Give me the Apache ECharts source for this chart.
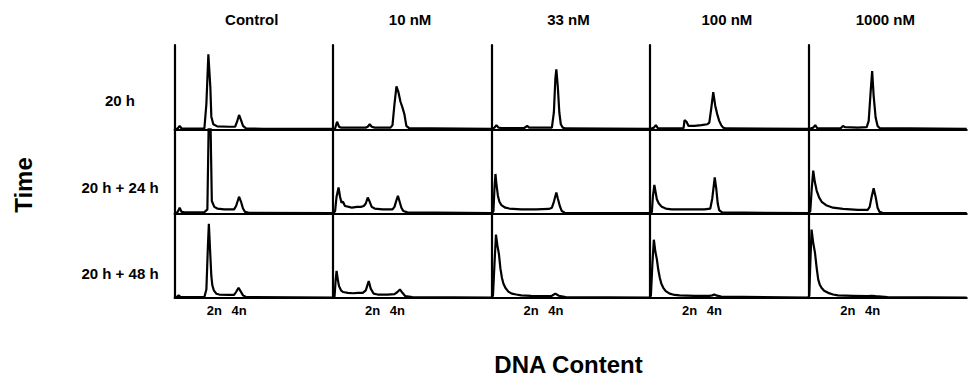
<!DOCTYPE html>
<html>
<head>
<meta charset="utf-8">
<script src="https://cdn.jsdelivr.net/npm/echarts@6/dist/echarts.min.js"></script>
<style>
html,body{margin:0;padding:0;background:#fff;}
#chart{width:972px;height:385px;}
</style>
</head>
<body>
<div id="chart"></div>
<script>
// ---------------- data ----------------
const concentrations = ['Control', '10 nM', '33 nM', '100 nM', '1000 nM'];
const timePoints = ['20 h', '20 h + 24 h', '20 h + 48 h'];
const ploidyLabels = ['2n', '4n'];
const ploidyChannels = [40, 65];          // DNA-content channel of the 2n / 4n tick labels
const xAxisTitle = 'DNA Content';
const yAxisTitle = 'Time';

// [channel, relative cell count] per histogram (y: 0-100 = full panel height)
// row 1: 20 h
const ctl_20h = [[0,0],[3,1],[5,4],[7,1],[20,0.8],[30,1],[32,30],[34,89],[36,50],[37,15],[39,6],[43,3.5],[55,3],[61,3],[63,9],[65,17],[67,11],[69,4],[72,1],[90,0.5],[160,0.5]];
const nm10_20h = [[0,0],[2,1],[4,9],[6,3],[8,2],[20,2],[33,2],[35,3],[37,6],[39,3],[42,2],[58,2],[60,5],[62,30],[64,51],[66,44],[68,33],[70,26],[72,18],[74,4],[77,1],[100,1],[160,0.5]];
const nm33_20h = [[0,0],[3,2],[5,5],[7,2],[10,1.5],[33,1.5],[35,3],[36,4],[38,2],[45,2],[61,2],[63,20],[64.5,60],[65.5,71],[67,50],[68.5,20],[70,6],[72,2],[75,1],[160,0.5]];
const nm100_20h = [[0,0],[4,2],[6,5],[8,1.5],[20,1],[34,1.5],[35,11],[37,9],[39,4],[45,4],[52,5],[58,6],[60,8],[62,25],[64,44],[66,28],[68,18],[70,10],[72,5],[74,2],[77,1],[160,0.5]];
const nm1000_20h = [[0,0],[5,2],[7,5],[9,1.5],[20,1],[33,1.5],[35,4],[37,2.5],[50,2],[59,2.5],[61,10],[63,45],[64.5,69],[66,40],[68,14],[70,4],[72,1.5],[160,0.5]];
// row 2: 20 h + 24 h
const ctl_44h = [[0,0],[3,2],[5,7],[7,2],[10,1.5],[30,1.5],[33,5],[34.5,120],[36,120],[37.5,15],[40,8],[43,6],[50,5],[60,5],[62,9],[65,20],[67,14],[69,6],[71,2],[75,1],[160,0.5]];
const nm10_44h = [[0,0],[2,3],[3.5,20],[5.5,31],[7,20],[8.5,13],[10,14],[12,9],[16,8],[19,7],[24,8],[28,8],[31,9],[33,12],[35,19],[37,14],[39,8],[42,6],[50,5],[60,5],[62,8],[64,16],[65.5,21],[67,15],[69,7],[71,3],[75,1.5],[160,0.5]];
const nm33_44h = [[0,0],[2,3],[3,30],[4,47],[5,35],[6.5,21],[8,14],[10,10],[14,7],[18,6],[30,5],[45,5],[58,5.5],[61,7],[63,14],[65.5,25],[67,18],[69,9],[71,3],[74,1],[160,0.5]];
const nm100_44h = [[0,0],[2,2],[3,20],[4.5,34],[6,24],[7,17],[9,12],[12,8],[16,6],[22,5],[40,5],[55,5],[61,6],[63,18],[65.5,43],[67,30],[68.5,12],[70,4],[73,1.5],[160,0.5]];
const nm1000_44h = [[0,0],[2,3],[3.5,30],[5,51],[6.5,38],[8.5,27],[11,19],[13.5,14],[18,10],[25,7],[35,5.5],[50,4.5],[60,4.5],[62,8],[64,20],[66,30],[68,20],[70,7],[72,2],[75,1],[160,0.5]];
// row 3: 20 h + 48 h
const ctl_68h = [[0,0],[2,1],[4,3],[6,1],[10,1],[30,1],[32,10],[33.5,60],[34.5,88],[36,50],[37,26],[38,15],[39.5,9],[42,5],[45,4],[55,3.5],[60,3.5],[62,7],[64.5,12],[66.5,8],[69,3],[72,1],[160,0.5]];
const nm10_68h = [[0,0],[1.5,2],[2.5,20],[3.5,32],[5,20],[6,14],[8,9],[10,7],[15,6],[20,5.5],[25,6],[30,6],[33,9],[36,20],[38,11],[41,5],[45,4],[55,4],[62,4.5],[65,7],[67.5,10],[70,6],[73,2],[80,1],[160,0.5]];
const nm33_68h = [[0,0],[1.5,3],[3,40],[4.5,75],[6,62],[7.5,52],[9,35],[10.5,24],[12,17],[14,12],[17,7.5],[20.5,5],[25,4],[30,3],[40,2.5],[55,2],[61,2.5],[64.5,5],[68,2.5],[75,1],[160,0.5]];
const nm100_68h = [[0,0],[1,3],[2.5,40],[4,69],[5.5,55],[7,46],[8.5,33],[10,24],[11.5,17],[13.5,12],[16,8],[20,5],[25,3.5],[30,3],[45,2.5],[60,2.5],[63,3],[65,4],[67,3],[72,1.5],[160,0.5]];
const nm1000_68h = [[0,0],[1,3],[2,40],[3.3,81],[5,65],[6.7,54],[8.5,35],[10,22],[11.5,16],[13.3,12],[16,8.5],[20,6],[25,4],[30,3],[45,2.5],[60,2],[64,2.5],[68,2],[80,1],[160,0.5]];

const histograms = [
  [ctl_20h, nm10_20h, nm33_20h, nm100_20h, nm1000_20h],
  [ctl_44h, nm10_44h, nm33_44h, nm100_44h, nm1000_44h],
  [ctl_68h, nm10_68h, nm33_68h, nm100_68h, nm1000_68h]
];

// ---------------- layout ----------------
const LEFT0 = 174.7, STEP = 158.4, TOP0 = 45, ROWH = 84.3;
const FONT = '"Liberation Sans", Arial, Helvetica, sans-serif';
const rowLabelY = [100.5, 187, 273];
const rowLabelX = 120;
const titleY = 19;

const grids = [], xAxes = [], yAxes = [], series = [], graphics = [];
for (let r = 0; r < timePoints.length; r++) {
  for (let c = 0; c < concentrations.length; c++) {
    const idx = grids.length;
    grids.push({ left: LEFT0 + c * STEP, top: TOP0 + r * ROWH, width: STEP, height: ROWH });
    const bottomRow = r === timePoints.length - 1;
    xAxes.push({
      gridIndex: idx, type: 'value', min: 0, max: 160,
      axisLine: { show: true, onZero: true, lineStyle: { color: '#000', width: 2.2 } },
      axisTick: { show: false },
      splitLine: { show: false },
      axisLabel: bottomRow ? {
        show: true, customValues: ploidyChannels,
        formatter: v => ploidyLabels[ploidyChannels.indexOf(v)] || '',
        margin: 6, fontSize: 13, fontWeight: 'bold', fontFamily: FONT, color: '#000'
      } : { show: false }
    });
    yAxes.push({
      gridIndex: idx, type: 'value', min: 0, max: 100,
      axisLine: { show: true, lineStyle: { color: '#000', width: 2.2 } },
      axisTick: { show: false }, axisLabel: { show: false }, splitLine: { show: false }
    });
    series.push({
      type: 'line', xAxisIndex: idx, yAxisIndex: idx,
      name: concentrations[c] + ' / ' + timePoints[r],
      data: histograms[r][c],
      showSymbol: false, symbol: 'none', clip: true,
      lineStyle: { color: '#000', width: 2.2 },
      emphasis: { disabled: true }
    });
  }
}

function txt(text, x, y, size, rot) {
  return {
    type: 'text', x: x, y: y, rotation: rot || 0, silent: true,
    style: {
      text: text, fill: '#000',
      font: 'bold ' + size + 'px ' + FONT,
      fontSize: size, fontWeight: 'bold', fontFamily: FONT,
      align: 'center', verticalAlign: 'middle',
      textAlign: 'center', textVerticalAlign: 'middle'
    }
  };
}
concentrations.forEach((name, c) => graphics.push(txt(name, LEFT0 + c * STEP + 77, titleY, 15)));
timePoints.forEach((name, r) => graphics.push(txt(name, rowLabelX, rowLabelY[r], 15)));
graphics.push(txt(yAxisTitle, 23, 185, 24, Math.PI / 2));
graphics.push(txt(xAxisTitle, 568.5, 364.5, 24));

const chart = echarts.init(document.getElementById('chart'), null, { renderer: 'svg' });
chart.setOption({
  animation: false,
  backgroundColor: '#fff',
  grid: grids, xAxis: xAxes, yAxis: yAxes, series: series,
  graphic: graphics
});
</script>
</body>
</html>
